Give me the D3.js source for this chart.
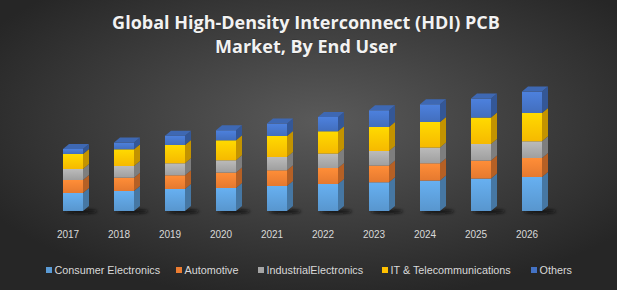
<!DOCTYPE html>
<html>
<head>
<meta charset="utf-8">
<script src="https://cdn.jsdelivr.net/npm/d3@7"></script>
<style>
  body { margin: 0; background: #2a2a2a; }
  svg { display: block; }
</style>
</head>
<body>
<div id="chart-area"></div>
<script>
const width = 617, height = 290

// data (no axis shown, arbitrary units)
const years = ['2017', '2018', '2019', '2020', '2021', '2022', '2023', '2024', '2025', '2026']
const seriesNames = ['Consumer Electronics', 'Automotive', 'IndustrialElectronics', 'IT & Telecommunications', 'Others']
const consumer = [18, 20, 22, 23, 25, 27, 28.7, 30.4, 32.4, 34]
const automotive = [13, 13.3, 13.7, 15.4, 15.7, 16, 16.7, 17.3, 18, 19]
const industrial = [11, 11.7, 12, 12.3, 13.3, 14.4, 14.6, 15.7, 16.6, 16.7]
const itTelecom = [15, 16.7, 18.3, 20, 21, 22.3, 24, 25.6, 26.4, 28.3]
const others = [5, 6.7, 9.3, 10, 12.4, 14.3, 16.7, 17.7, 19, 21.4]
const colors = ['#5b9bd5', '#ed7d31', '#a5a5a5', '#ffc000', '#4472c4']

const allSeries = [consumer, automotive, industrial, itTelecom, others]
const data = years.map((yr, i) => {
  const row = {year: yr}
  seriesNames.forEach((s, k) => row[s] = allSeries[k][i])
  return row
})
const stacked = d3.stack().keys(seriesNames)(data)

const svg = d3.select('#chart-area').append('svg')
  .attr('width', width)
  .attr('height', height)

const defs = svg.append('defs')
const bg = defs.append('radialGradient').attr('id', 'bg')
  .attr('cx', '52%').attr('cy', '42%').attr('r', '62%')
bg.append('stop').attr('offset', '0%').attr('stop-color', '#5a5a5a')
bg.append('stop').attr('offset', '100%').attr('stop-color', '#262626')

defs.append('filter').attr('id', 'blur')
  .attr('x', '-50%').attr('y', '-50%').attr('width', '200%').attr('height', '200%')
  .append('feGaussianBlur').attr('stdDeviation', 1.6)

colors.forEach((c, k) => {
  const g = defs.append('linearGradient').attr('id', 'front' + k)
    .attr('x1', 0).attr('y1', 0).attr('x2', 0).attr('y2', 1)
  g.append('stop').attr('offset', '0%').attr('stop-color', d3.color(c).brighter(0.35))
  g.append('stop').attr('offset', '100%').attr('stop-color', d3.color(c).darker(0.1))
})

svg.append('rect').attr('width', width).attr('height', height).attr('fill', 'url(#bg)')

// scales
const x = d3.scalePoint().domain(years).range([73, 532])
const y = d3.scaleLinear().domain([0, 120]).range([211, 91])
const barW = 20, dx = 6, dy = 5

// floor shadows
svg.append('g').selectAll('ellipse').data(years).enter().append('ellipse')
  .attr('cx', d => x(d) + 8)
  .attr('cy', y(0) + 0.5)
  .attr('rx', 16)
  .attr('ry', 2.2)
  .attr('fill', '#111')
  .attr('opacity', 0.85)
  .attr('filter', 'url(#blur)')

const bars = svg.append('g')
years.forEach((yr, i) => {
  const left = x(yr) - barW / 2
  const g = bars.append('g')
  stacked.forEach((layer, k) => {
    const y0 = y(layer[i][0]), y1 = y(layer[i][1])
    const base = d3.color(colors[k])
    // side face
    g.append('path')
      .attr('d', `M${left + barW},${y1} L${left + barW + dx},${y1 - dy} L${left + barW + dx},${y0 - dy} L${left + barW},${y0} Z`)
      .attr('fill', base.darker(0.75))
    // front face
    g.append('rect')
      .attr('x', left).attr('y', y1)
      .attr('width', barW).attr('height', y0 - y1)
      .attr('fill', `url(#front${k})`)
    if (k === stacked.length - 1) {
      g.append('path')
        .attr('d', `M${left},${y1} L${left + dx},${y1 - dy} L${left + barW + dx},${y1 - dy} L${left + barW},${y1} Z`)
        .attr('fill', base.darker(0.25))
    }
  })
})

// year labels
svg.append('g').selectAll('text').data(years).enter().append('text')
  .attr('x', d => x(d) - 5)
  .attr('y', 237.5)
  .attr('text-anchor', 'middle')
  .attr('font-family', 'Liberation Sans, Arial, sans-serif')
  .attr('font-size', 10)
  .attr('fill', '#d9d9d9')
  .text(d => d)

// title
const titleLines = ['Global High-Density Interconnect (HDI) PCB', 'Market, By End User']
const title = svg.append('g')
title.selectAll('text').data(titleLines).enter().append('text')
  .attr('x', 306)
  .attr('y', (d, i) => 28.5 + i * 24)
  .attr('text-anchor', 'middle')
  .attr('font-family', 'Open Sans, sans-serif')
  .attr('font-weight', 'bold')
  .attr('font-size', 16)
  .attr('fill', '#f2f2f2')
  .attr('stroke', '#1a1a1a').attr('stroke-width', 0.3).attr('paint-order', 'stroke')
  .text(d => d)
// fit title width to ~388px
const t0 = title.select('text').node()
const fs = 16 * 388 / t0.getComputedTextLength()
title.selectAll('text').attr('font-size', fs)

// legend
const legendX = [46, 176, 258, 382, 531]
const legend = svg.append('g').selectAll('g').data(seriesNames).enter().append('g')
  .attr('transform', (d, i) => `translate(${legendX[i]}, 266)`)
legend.append('rect')
  .attr('width', 6).attr('height', 6)
  .attr('y', 1)
  .attr('fill', (d, i) => colors[i])
legend.append('text')
  .attr('x', 8.5)
  .attr('y', 7.5)
  .attr('font-family', 'Liberation Sans, Arial, sans-serif')
  .attr('font-size', 10.8)
  .attr('fill', '#d9d9d9')
  .text(d => d)
</script>
</body>
</html>
